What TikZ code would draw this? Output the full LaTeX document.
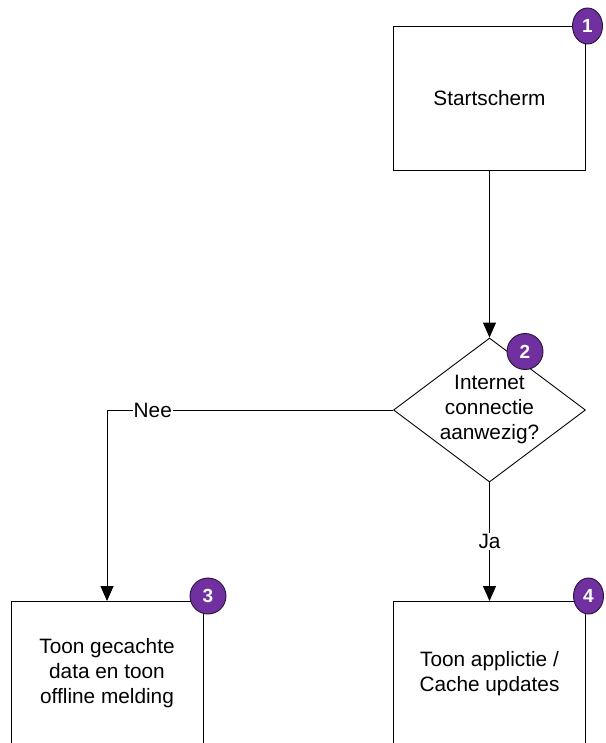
\documentclass[tikz,border=0pt]{standalone}
\usepackage{fontspec}
\setmainfont{Liberation Sans}
\usetikzlibrary{shapes.geometric,arrows.meta}
\definecolor{badgefill}{HTML}{7030A0}
\definecolor{badgeline}{HTML}{2A1238}
\tikzset{
  flowbox/.style={draw=black, line width=0.9pt, fill=white, minimum width=192pt,
    minimum height=144pt, inner sep=0pt, align=center,
    font=\fontsize{20.8}{25}\selectfont},
  decision/.style={draw=black, line width=0.9pt, fill=white, diamond,
    minimum width=192pt, minimum height=144pt, inner sep=0pt},
  flowtext/.style={align=center, font=\fontsize{20.8}{25}\selectfont, inner sep=0pt},
  badge/.style={draw=badgeline, line width=0.9pt, fill=badgefill, text=white,
    font=\fontsize{19}{19}\selectfont\bfseries, inner sep=0pt},
  flowline/.style={draw=black, line width=0.9pt,
    -{Triangle[width=13pt,length=15pt]}},
  flowlabel/.style={fill=white, inner sep=1pt, font=\fontsize{20.8}{25}\selectfont}
}
\begin{document}
\begin{tikzpicture}[x=1pt, y=-1pt]
  \useasboundingbox (0,0) rectangle (605,743);

  % process steps and the decision
  \node[flowbox] (start) at (489.5,98) {Startscherm};
  \node[decision] (check) at (489.5,410) {};
  \node[flowtext] (checktext) at (489.5,409) {Internet\\connectie\\aanwezig?};
  \node[flowbox, anchor=north] (offline) at (107,601) {Toon gecachte\\data en toon\\offline melding};
  \node[flowbox, anchor=north] (online) at (489.5,601) {Toon applictie /\\Cache updates};

  % numbered badges
  \node[badge, ellipse, minimum width=30pt, minimum height=36pt] (b1) at (587.5,26) {1};
  \node[badge, circle, minimum size=36pt] (b2) at (525,351.5) {2};
  \node[badge, circle, minimum size=36pt] (b3) at (208,596) {3};
  \node[badge, ellipse, minimum width=30pt, minimum height=36pt] (b4) at (588.5,596) {4};

  % connectors
  \draw[flowline] (start.south) -- (check.north);
  \draw[flowline] (check.west) -| node[flowlabel, pos=0.42] (nee) {Nee} (offline.north);
  \draw[flowline] (check.south) -- node[flowlabel] (ja) {Ja} (online.north);
\end{tikzpicture}
\end{document}
